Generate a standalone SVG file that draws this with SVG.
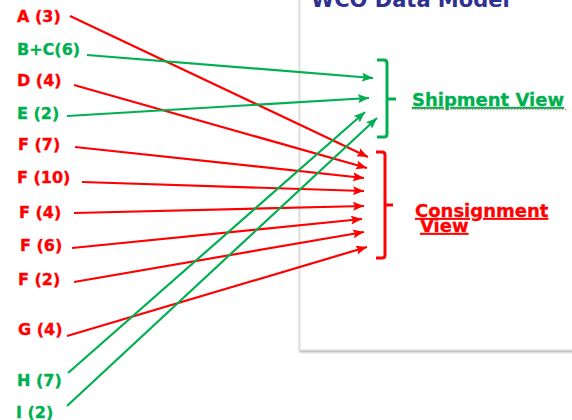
<svg xmlns="http://www.w3.org/2000/svg" width="572" height="420" viewBox="0 0 572 420">
<defs>
<marker id="ar" markerUnits="userSpaceOnUse" markerWidth="13" markerHeight="10" refX="11" refY="4.5" orient="auto">
<path d="M0,0 L11,4.5 L0,9 L2,4.5 Z" fill="#ff0000"/>
</marker>
<marker id="ag" markerUnits="userSpaceOnUse" markerWidth="13" markerHeight="10" refX="11" refY="4.5" orient="auto">
<path d="M0,0 L11,4.5 L0,9 L2,4.5 Z" fill="#00b050"/>
</marker>
<filter id="sh" x="-5%" y="-5%" width="110%" height="110%">
<feDropShadow dx="0" dy="1.5" stdDeviation="1" flood-color="#000" flood-opacity="0.35"/>
</filter>
</defs>
<style>
.lbl{font-family:"DejaVu Sans","Verdana",sans-serif;font-weight:bold;font-size:16px;stroke-width:0.35}
.r{fill:#ff0000;stroke:#ff0000}
.g{fill:#00b050;stroke:#00b050}
.cr{stroke:#ff0000;stroke-width:2.2;fill:none;marker-end:url(#ar)}
.cg{stroke:#00b050;stroke-width:2.2;fill:none;marker-end:url(#ag)}
.view{font-family:"DejaVu Sans","Verdana",sans-serif;font-weight:bold;font-size:18px;stroke-width:0.3}
.br{fill:none;stroke-width:3;stroke-linejoin:round}
</style>
<rect width="572" height="420" fill="#ffffff"/>
<g id="panel">
<rect x="300" y="-10" width="290" height="360" fill="#ffffff" stroke="#dddddd" stroke-width="1.2" filter="url(#sh)"/>
<text x="311" y="7" font-family="DejaVu Sans, Verdana, sans-serif" font-weight="bold" font-size="21" fill="#2e3192">WCO Data Model</text>
</g>
<g id="connectors">
<line class="cr" x1="70" y1="16" x2="368" y2="157"/>
<line class="cr" x1="74" y1="85" x2="367" y2="168"/>
<line class="cr" x1="75" y1="147" x2="364" y2="178"/>
<line class="cr" x1="82" y1="182" x2="364" y2="191"/>
<line class="cr" x1="74" y1="213" x2="364" y2="206"/>
<line class="cr" x1="72" y1="248" x2="362" y2="219"/>
<line class="cr" x1="74" y1="282" x2="364" y2="232"/>
<line class="cr" x1="67" y1="336" x2="367" y2="247"/>
<line class="cg" x1="87" y1="55" x2="373" y2="78"/>
<line class="cg" x1="67" y1="116" x2="369" y2="98"/>
<line class="cg" x1="68" y1="373" x2="365" y2="112"/>
<line class="cg" x1="67" y1="406" x2="377" y2="118"/>
</g>
<g id="n-a"><text class="lbl r" x="17" y="22">A (3)</text></g>
<g id="n-bc"><text class="lbl g" x="17" y="55">B+C(6)</text></g>
<g id="n-d"><text class="lbl r" x="17" y="86">D (4)</text></g>
<g id="n-e"><text class="lbl g" x="17" y="119">E (2)</text></g>
<g id="n-f7"><text class="lbl r" x="18" y="150">F (7)</text></g>
<g id="n-f10"><text class="lbl r" x="17" y="183">F (10)</text></g>
<g id="n-f4"><text class="lbl r" x="19" y="218">F (4)</text></g>
<g id="n-f6"><text class="lbl r" x="20" y="251">F (6)</text></g>
<g id="n-f2"><text class="lbl r" x="18" y="285">F (2)</text></g>
<g id="n-g"><text class="lbl r" x="18" y="335">G (4)</text></g>
<g id="n-h"><text class="lbl g" x="17" y="386">H (7)</text></g>
<g id="n-i"><text class="lbl g" x="16" y="418">I (2)</text></g>
<g id="shipment-view">
<path class="br" stroke="#00b050" d="M377,60 H384 Q387,60 387,63 V134 Q387,137 384,137 H377 M387,99 H396"/>
<text class="view g" x="412" y="106" text-decoration="underline">Shipment View</text>
<line x1="412" y1="109.5" x2="568" y2="109.5" stroke="#ff6666" stroke-width="0.8" stroke-dasharray="1.5,1.5"/>
</g>
<g id="consignment-view">
<path class="br" stroke="#ff0000" d="M376,152 H382 Q385,152 385,155 V255 Q385,258 382,258 H376 M385,205 H393"/>
<text class="view r" x="415" y="217" text-decoration="underline">Consignment</text>
<text class="view r" x="420" y="232" text-decoration="underline">View</text>
</g>
</svg>
